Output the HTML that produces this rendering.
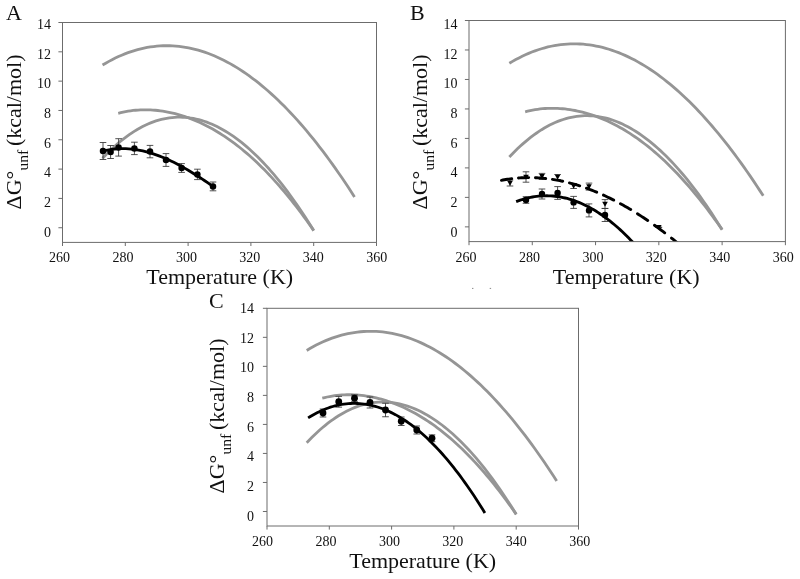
<!DOCTYPE html>
<html><head><meta charset="utf-8"><title>Figure</title>
<style>
html,body{margin:0;padding:0;background:#fff;}
body{width:800px;height:579px;overflow:hidden;font-family:"Liberation Serif", serif;}
svg{display:block;filter:grayscale(1)}
text{font-family:"Liberation Serif", serif;fill:#111;}
.tk{font-size:14px}
.ti{font-size:22px}
.sb{font-size:15.5px}
.lb{font-size:22px}
</style></head><body>
<svg width="800" height="579" viewBox="0 0 800 579">
<rect width="800" height="579" fill="#fff"/>
<g id="pa">
<path d="M102.53 65.07 L105.72 63.18 L108.91 61.38 L112.10 59.68 L115.29 58.09 L118.48 56.59 L121.67 55.19 L124.86 53.89 L128.05 52.68 L131.24 51.57 L134.43 50.56 L137.62 49.65 L140.81 48.83 L144.00 48.11 L147.19 47.48 L150.38 46.95 L153.57 46.52 L156.76 46.18 L159.95 45.93 L163.14 45.77 L166.33 45.71 L169.52 45.75 L172.71 45.87 L175.90 46.09 L179.09 46.40 L182.28 46.80 L185.47 47.29 L188.66 47.88 L191.85 48.56 L195.04 49.32 L198.23 50.18 L201.42 51.12 L204.60 52.16 L207.79 53.29 L210.98 54.50 L214.17 55.80 L217.36 57.19 L220.55 58.67 L223.74 60.24 L226.93 61.90 L230.12 63.64 L233.31 65.47 L236.50 67.39 L239.69 69.39 L242.88 71.48 L246.07 73.65 L249.26 75.91 L252.45 78.26 L255.64 80.69 L258.83 83.21 L262.02 85.81 L265.21 88.49 L268.40 91.26 L271.59 94.12 L274.78 97.05 L277.97 100.07 L281.16 103.17 L284.35 106.36 L287.54 109.63 L290.73 112.98 L293.92 116.41 L297.11 119.92 L300.30 123.52 L303.49 127.20 L306.67 130.96 L309.86 134.79 L313.05 138.71 L316.24 142.71 L319.43 146.79 L322.62 150.95 L325.81 155.19 L329.00 159.51 L332.19 163.91 L335.38 168.38 L338.57 172.94 L341.76 177.57 L344.95 182.28 L348.14 187.07 L351.33 191.94 L354.52 196.89" fill="none" stroke="#959595" stroke-width="2.8"/>
<path d="M118.23 113.29 L120.71 112.66 L123.18 112.10 L125.66 111.60 L128.13 111.17 L130.61 110.80 L133.08 110.48 L135.55 110.23 L138.03 110.04 L140.50 109.90 L142.98 109.82 L145.45 109.80 L147.93 109.83 L150.40 109.92 L152.87 110.06 L155.35 110.26 L157.82 110.50 L160.30 110.80 L162.77 111.16 L165.25 111.56 L167.72 112.01 L170.19 112.52 L172.67 113.08 L175.14 113.69 L177.62 114.34 L180.09 115.05 L182.57 115.81 L185.04 116.62 L187.51 117.48 L189.99 118.39 L192.46 119.35 L194.94 120.36 L197.41 121.42 L199.88 122.53 L202.36 123.69 L204.83 124.90 L207.31 126.16 L209.78 127.47 L212.26 128.84 L214.73 130.25 L217.20 131.72 L219.68 133.24 L222.15 134.81 L224.63 136.43 L227.10 138.10 L229.58 139.83 L232.05 141.61 L234.52 143.44 L237.00 145.33 L239.47 147.26 L241.95 149.26 L244.42 151.30 L246.90 153.40 L249.37 155.55 L251.84 157.76 L254.32 160.02 L256.79 162.34 L259.27 164.71 L261.74 167.13 L264.22 169.61 L266.69 172.14 L269.16 174.73 L271.64 177.37 L274.11 180.07 L276.59 182.82 L279.06 185.63 L281.53 188.49 L284.01 191.40 L286.48 194.36 L288.96 197.38 L291.43 200.46 L293.91 203.58 L296.38 206.76 L298.85 209.99 L301.33 213.27 L303.80 216.60 L306.28 219.98 L308.75 223.41 L311.23 226.89 L313.70 230.42" fill="none" stroke="#959595" stroke-width="2.8"/>
<path d="M102.53 158.28 L105.21 155.48 L107.88 152.77 L110.55 150.16 L113.23 147.65 L115.90 145.23 L118.57 142.91 L121.25 140.69 L123.92 138.57 L126.59 136.55 L129.26 134.63 L131.94 132.81 L134.61 131.09 L137.28 129.47 L139.96 127.95 L142.63 126.53 L145.30 125.21 L147.98 123.99 L150.65 122.87 L153.32 121.86 L155.99 120.94 L158.67 120.12 L161.34 119.41 L164.01 118.79 L166.69 118.27 L169.36 117.85 L172.03 117.53 L174.71 117.31 L177.38 117.19 L180.05 117.16 L182.72 117.24 L185.40 117.41 L188.07 117.67 L190.74 118.03 L193.42 118.49 L196.09 119.04 L198.76 119.69 L201.44 120.43 L204.11 121.26 L206.78 122.19 L209.45 123.21 L212.13 124.32 L214.80 125.53 L217.47 126.82 L220.15 128.20 L222.82 129.68 L225.49 131.24 L228.16 132.89 L230.84 134.64 L233.51 136.46 L236.18 138.38 L238.86 140.38 L241.53 142.47 L244.20 144.65 L246.88 146.91 L249.55 149.26 L252.22 151.69 L254.89 154.21 L257.57 156.81 L260.24 159.49 L262.91 162.26 L265.59 165.11 L268.26 168.05 L270.93 171.07 L273.61 174.17 L276.28 177.35 L278.95 180.62 L281.62 183.97 L284.30 187.40 L286.97 190.92 L289.64 194.52 L292.32 198.20 L294.99 201.97 L297.66 205.82 L300.34 209.76 L303.01 213.78 L305.68 217.88 L308.35 222.07 L311.03 226.35 L313.70 230.71" fill="none" stroke="#959595" stroke-width="2.8"/>
<path d="M103.00 142.50V159.50M99.70 142.50H106.30M99.70 159.50H106.30M110.60 145.50V158.50M107.30 145.50H113.90M107.30 158.50H113.90M118.60 138.70V156.10M115.30 138.70H121.90M115.30 156.10H121.90M134.40 142.20V154.60M131.10 142.20H137.70M131.10 154.60H137.70M150.00 145.40V157.80M146.70 145.40H153.30M146.70 157.80H153.30M166.00 153.60V166.40M162.70 153.60H169.30M162.70 166.40H169.30M181.60 163.60V172.40M178.30 163.60H184.90M178.30 172.40H184.90M197.40 169.20V179.60M194.10 169.20H200.70M194.10 179.60H200.70M213.00 182.00V190.80M209.70 182.00H216.30M209.70 190.80H216.30" fill="none" stroke="#333" stroke-width="0.85"/>
<path d="M103.32 151.05 L106.14 150.38 L108.96 149.83 L111.77 149.38 L114.59 149.03 L117.41 148.79 L120.23 148.65 L123.05 148.61 L125.86 148.66 L128.68 148.82 L131.50 149.06 L134.32 149.39 L137.14 149.81 L139.95 150.32 L142.77 150.91 L145.59 151.59 L148.41 152.34 L151.23 153.17 L154.04 154.08 L156.86 155.06 L159.68 156.11 L162.50 157.22 L165.31 158.41 L168.13 159.66 L170.95 160.97 L173.77 162.34 L176.59 163.77 L179.40 165.26 L182.22 166.79 L185.04 168.38 L187.86 170.02 L190.68 171.71 L193.49 173.44 L196.31 175.21 L199.13 177.03 L201.95 178.88 L204.77 180.77 L207.58 182.69 L210.40 184.65 L213.22 186.63" fill="none" stroke="#000" stroke-width="2.85"/>
<circle cx="103.00" cy="151.00" r="3.25" fill="#000"/>
<circle cx="110.60" cy="152.00" r="3.25" fill="#000"/>
<circle cx="118.60" cy="147.40" r="3.25" fill="#000"/>
<circle cx="134.40" cy="148.40" r="3.25" fill="#000"/>
<circle cx="150.00" cy="151.60" r="3.25" fill="#000"/>
<circle cx="166.00" cy="160.00" r="3.25" fill="#000"/>
<circle cx="181.60" cy="168.00" r="3.25" fill="#000"/>
<circle cx="197.40" cy="174.40" r="3.25" fill="#000"/>
<circle cx="213.00" cy="186.40" r="3.25" fill="#000"/>
<rect x="62.50" y="22.50" width="314.00" height="219.90" fill="none" stroke="#6c6c6c" stroke-width="1"/>
<path d="M58.40 227.74H62.50M58.40 198.42H62.50M58.40 169.10H62.50M58.40 139.78H62.50M58.40 110.46H62.50M58.40 81.14H62.50M58.40 51.82H62.50M58.40 22.50H62.50M62.50 242.40V246.00M125.30 242.40V246.00M188.10 242.40V246.00M250.90 242.40V246.00M313.70 242.40V246.00M376.50 242.40V246.00" stroke="#6c6c6c" stroke-width="1" fill="none"/>
<text x="50.90" y="28.90" text-anchor="end" class="tk">14</text>
<text x="50.90" y="58.56" text-anchor="end" class="tk">12</text>
<text x="50.90" y="88.22" text-anchor="end" class="tk">10</text>
<text x="50.90" y="117.88" text-anchor="end" class="tk">8</text>
<text x="50.90" y="147.54" text-anchor="end" class="tk">6</text>
<text x="50.90" y="177.20" text-anchor="end" class="tk">4</text>
<text x="50.90" y="206.86" text-anchor="end" class="tk">2</text>
<text x="50.90" y="236.52" text-anchor="end" class="tk">0</text>
<text x="59.60" y="262.00" text-anchor="middle" class="tk">260</text>
<text x="123.02" y="262.00" text-anchor="middle" class="tk">280</text>
<text x="186.44" y="262.00" text-anchor="middle" class="tk">300</text>
<text x="249.86" y="262.00" text-anchor="middle" class="tk">320</text>
<text x="313.28" y="262.00" text-anchor="middle" class="tk">340</text>
<text x="376.70" y="262.00" text-anchor="middle" class="tk">360</text>
<text x="219.70" y="283.70" text-anchor="middle" class="ti">Temperature (K)</text>
<text transform="translate(20.60 131.95) rotate(-90)" text-anchor="middle" class="ti">ΔG°<tspan class="sb" dx="0" dy="7.0">unf</tspan><tspan dy="-7.0" dx="-1.7"> (kcal/mol)</tspan></text>
<text x="5.9" y="20.3" class="lb">A</text>
</g>
<g id="pb">
<clipPath id="cb"><rect x="469.0" y="20.5" width="316.4" height="221.6"/></clipPath>
<path d="M509.34 63.31 L512.56 61.40 L515.77 59.59 L518.98 57.89 L522.20 56.28 L525.41 54.77 L528.63 53.37 L531.84 52.06 L535.05 50.85 L538.27 49.73 L541.48 48.72 L544.70 47.80 L547.91 46.98 L551.12 46.25 L554.34 45.62 L557.55 45.09 L560.77 44.65 L563.98 44.30 L567.19 44.06 L570.41 43.90 L573.62 43.84 L576.84 43.87 L580.05 44.00 L583.26 44.22 L586.48 44.53 L589.69 44.93 L592.91 45.43 L596.12 46.02 L599.33 46.70 L602.55 47.47 L605.76 48.33 L608.98 49.28 L612.19 50.32 L615.41 51.45 L618.62 52.67 L621.83 53.98 L625.05 55.38 L628.26 56.87 L631.48 58.45 L634.69 60.11 L637.90 61.86 L641.12 63.70 L644.33 65.63 L647.55 67.65 L650.76 69.75 L653.97 71.93 L657.19 74.21 L660.40 76.56 L663.62 79.01 L666.83 81.54 L670.04 84.15 L673.26 86.85 L676.47 89.64 L679.69 92.51 L682.90 95.46 L686.11 98.49 L689.33 101.61 L692.54 104.82 L695.76 108.10 L698.97 111.47 L702.18 114.92 L705.40 118.46 L708.61 122.07 L711.83 125.77 L715.04 129.55 L718.26 133.41 L721.47 137.35 L724.68 141.37 L727.90 145.47 L731.11 149.65 L734.33 153.92 L737.54 158.26 L740.75 162.68 L743.97 167.18 L747.18 171.76 L750.40 176.42 L753.61 181.16 L756.82 185.97 L760.04 190.87 L763.25 195.84" fill="none" stroke="#959595" stroke-width="2.8"/>
<path d="M525.16 111.78 L527.65 111.15 L530.15 110.59 L532.64 110.09 L535.13 109.65 L537.63 109.28 L540.12 108.96 L542.61 108.71 L545.11 108.52 L547.60 108.38 L550.09 108.30 L552.59 108.28 L555.08 108.31 L557.57 108.40 L560.07 108.54 L562.56 108.73 L565.05 108.98 L567.54 109.29 L570.04 109.64 L572.53 110.04 L575.02 110.50 L577.52 111.01 L580.01 111.57 L582.50 112.18 L585.00 112.84 L587.49 113.56 L589.98 114.32 L592.48 115.13 L594.97 116.00 L597.46 116.91 L599.96 117.88 L602.45 118.89 L604.94 119.96 L607.44 121.07 L609.93 122.24 L612.42 123.46 L614.91 124.73 L617.41 126.05 L619.90 127.42 L622.39 128.84 L624.89 130.32 L627.38 131.84 L629.87 133.42 L632.37 135.05 L634.86 136.73 L637.35 138.47 L639.85 140.26 L642.34 142.10 L644.83 144.00 L647.33 145.95 L649.82 147.95 L652.31 150.00 L654.80 152.11 L657.30 154.28 L659.79 156.50 L662.28 158.77 L664.78 161.10 L667.27 163.48 L669.76 165.92 L672.26 168.41 L674.75 170.96 L677.24 173.56 L679.74 176.22 L682.23 178.93 L684.72 181.70 L687.22 184.52 L689.71 187.39 L692.20 190.32 L694.70 193.30 L697.19 196.34 L699.68 199.43 L702.17 202.57 L704.67 205.76 L707.16 209.01 L709.65 212.31 L712.15 215.66 L714.64 219.06 L717.13 222.51 L719.63 226.00 L722.12 229.55" fill="none" stroke="#959595" stroke-width="2.8"/>
<path d="M509.34 157.02 L512.03 154.20 L514.73 151.48 L517.42 148.86 L520.11 146.33 L522.81 143.90 L525.50 141.57 L528.19 139.34 L530.89 137.21 L533.58 135.17 L536.28 133.24 L538.97 131.41 L541.66 129.68 L544.36 128.05 L547.05 126.52 L549.74 125.10 L552.44 123.77 L555.13 122.55 L557.82 121.42 L560.52 120.40 L563.21 119.48 L565.90 118.66 L568.60 117.93 L571.29 117.31 L573.98 116.79 L576.68 116.37 L579.37 116.05 L582.06 115.83 L584.76 115.71 L587.45 115.68 L590.14 115.75 L592.84 115.92 L595.53 116.19 L598.22 116.55 L600.92 117.01 L603.61 117.57 L606.30 118.22 L609.00 118.96 L611.69 119.80 L614.38 120.73 L617.08 121.76 L619.77 122.88 L622.46 124.09 L625.16 125.39 L627.85 126.78 L630.54 128.26 L633.24 129.84 L635.93 131.50 L638.62 133.25 L641.32 135.09 L644.01 137.01 L646.70 139.03 L649.40 141.13 L652.09 143.32 L654.78 145.59 L657.48 147.95 L660.17 150.39 L662.87 152.93 L665.56 155.54 L668.25 158.24 L670.95 161.02 L673.64 163.89 L676.33 166.84 L679.03 169.88 L681.72 173.00 L684.41 176.20 L687.11 179.48 L689.80 182.85 L692.49 186.30 L695.19 189.84 L697.88 193.46 L700.57 197.16 L703.27 200.95 L705.96 204.82 L708.65 208.78 L711.35 212.82 L714.04 216.95 L716.73 221.16 L719.43 225.46 L722.12 229.85" fill="none" stroke="#959595" stroke-width="2.8"/>
<path d="M510.00 180.00V186.00M506.70 180.00H513.30M506.70 186.00H513.30M526.00 171.80V182.20M522.70 171.80H529.30M522.70 182.20H529.30M542.00 173.40V179.40M538.70 173.40H545.30M538.70 179.40H545.30M557.60 174.50V179.50M554.30 174.50H560.90M554.30 179.50H560.90M573.60 183.50V188.50M570.30 183.50H576.90M570.30 188.50H576.90M589.00 183.10V190.10M585.70 183.10H592.30M585.70 190.10H592.30M605.00 199.60V208.40M601.70 199.60H608.30M601.70 208.40H608.30M658.84 227.30V227.30M655.54 227.30H662.14M655.54 227.30H662.14" fill="none" stroke="#333" stroke-width="0.85"/>
<path d="M526.00 196.70V203.30M522.70 196.70H529.30M522.70 203.30H529.30M542.00 189.00V199.00M538.70 189.00H545.30M538.70 199.00H545.30M557.60 186.60V199.40M554.30 186.60H560.90M554.30 199.40H560.90M573.60 196.40V208.40M570.30 196.40H576.90M570.30 208.40H576.90M589.00 203.90V216.90M585.70 203.90H592.30M585.70 216.90H592.30M605.00 208.50V221.50M601.70 208.50H608.30M601.70 221.50H608.30" fill="none" stroke="#333" stroke-width="0.85"/>
<g clip-path="url(#cb)"><path d="M501.45 180.32 L502.91 180.04 L504.38 179.78 L505.84 179.53 L507.31 179.29 L508.77 179.07 L510.24 178.87 L511.70 178.68M518.45 178.01 L519.91 177.90 L521.38 177.81 L522.84 177.74 L524.31 177.68 L525.77 177.64 L527.24 177.61 L528.70 177.60M535.45 177.72 L536.91 177.79 L538.38 177.87 L539.84 177.96 L541.31 178.07 L542.77 178.20 L544.24 178.34 L545.70 178.49M552.45 179.38 L553.91 179.61 L555.38 179.85 L556.84 180.11 L558.31 180.38 L559.77 180.67 L561.24 180.96 L562.70 181.28M569.45 182.89 L570.91 183.28 L572.38 183.67 L573.84 184.09 L575.31 184.51 L576.77 184.95 L578.24 185.40 L579.70 185.87M586.45 188.17 L587.91 188.71 L589.38 189.25 L590.84 189.81 L592.31 190.38 L593.77 190.97 L595.24 191.56 L596.70 192.17M603.45 195.13 L604.91 195.81 L606.38 196.50 L607.84 197.20 L609.31 197.91 L610.77 198.63 L612.24 199.36 L613.70 200.11M620.45 203.69 L621.91 204.50 L623.38 205.32 L624.84 206.15 L626.31 206.99 L627.77 207.85 L629.24 208.71 L630.70 209.58M637.45 213.75 L638.91 214.69 L640.38 215.63 L641.84 216.59 L643.31 217.56 L644.77 218.53 L646.24 219.52 L647.70 220.51M654.45 225.24 L655.91 226.29 L657.38 227.35 L658.84 228.43 L660.31 229.51 L661.77 230.60 L663.24 231.70 L664.70 232.81M671.45 238.05 L672.91 239.22 L674.38 240.39 L675.84 241.57 L677.31 242.76 L678.77 243.96 L680.24 245.17 L681.70 246.39M688.45 252.11 L688.67 252.30 L688.89 252.49 L689.11 252.68 L689.34 252.88 L689.56 253.07 L689.78 253.26 L690.00 253.45" fill="none" stroke="#000" stroke-width="2.9" stroke-linecap="round"/>
<path d="M516.14 201.65 L518.19 200.88 L520.23 200.17 L522.27 199.51 L524.32 198.91 L526.36 198.36 L528.40 197.86 L530.45 197.41 L532.49 197.02 L534.53 196.69 L536.58 196.40 L538.62 196.17 L540.66 195.99 L542.71 195.87 L544.75 195.80 L546.79 195.78 L548.83 195.81 L550.88 195.90 L552.92 196.04 L554.96 196.23 L557.01 196.48 L559.05 196.78 L561.09 197.13 L563.14 197.53 L565.18 197.99 L567.22 198.49 L569.27 199.05 L571.31 199.67 L573.35 200.33 L575.40 201.05 L577.44 201.82 L579.48 202.64 L581.53 203.51 L583.57 204.43 L585.61 205.41 L587.66 206.44 L589.70 207.52 L591.74 208.65 L593.78 209.83 L595.83 211.07 L597.87 212.35 L599.91 213.69 L601.96 215.08 L604.00 216.52 L606.04 218.01 L608.09 219.55 L610.13 221.15 L612.17 222.79 L614.22 224.49 L616.26 226.24 L618.30 228.03 L620.35 229.88 L622.39 231.78 L624.43 233.73 L626.48 235.73 L628.52 237.79 L630.56 239.89 L632.61 242.04 L634.65 244.24 L636.69 246.50" fill="none" stroke="#000" stroke-width="2.85"/></g>
<path d="M507.20 180.71H512.80L510.00 185.81Z" fill="#000"/>
<path d="M523.20 174.71H528.80L526.00 179.81Z" fill="#000"/>
<path d="M539.20 174.11H544.80L542.00 179.21Z" fill="#000"/>
<path d="M554.80 174.71H560.40L557.60 179.81Z" fill="#000"/>
<path d="M570.80 183.71H576.40L573.60 188.81Z" fill="#000"/>
<path d="M586.20 184.31H591.80L589.00 189.41Z" fill="#000"/>
<path d="M602.20 201.71H607.80L605.00 206.81Z" fill="#000"/>
<path d="M656.04 225.01H661.64L658.84 230.11Z" fill="#000"/>
<circle cx="526.00" cy="200.00" r="3.2" fill="#000"/>
<circle cx="542.00" cy="194.00" r="3.2" fill="#000"/>
<circle cx="557.60" cy="193.00" r="3.2" fill="#000"/>
<circle cx="573.60" cy="202.40" r="3.2" fill="#000"/>
<circle cx="589.00" cy="210.40" r="3.2" fill="#000"/>
<circle cx="605.00" cy="215.00" r="3.2" fill="#000"/>
<rect x="469.00" y="20.50" width="316.40" height="221.10" fill="none" stroke="#6c6c6c" stroke-width="1"/>
<path d="M464.90 226.86H469.00M464.90 197.38H469.00M464.90 167.90H469.00M464.90 138.42H469.00M464.90 108.94H469.00M464.90 79.46H469.00M464.90 49.98H469.00M464.90 20.50H469.00M469.00 241.60V245.20M532.28 241.60V245.20M595.56 241.60V245.20M658.84 241.60V245.20M722.12 241.60V245.20M785.40 241.60V245.20" stroke="#6c6c6c" stroke-width="1" fill="none"/>
<text x="457.40" y="28.90" text-anchor="end" class="tk">14</text>
<text x="457.40" y="58.56" text-anchor="end" class="tk">12</text>
<text x="457.40" y="88.22" text-anchor="end" class="tk">10</text>
<text x="457.40" y="117.88" text-anchor="end" class="tk">8</text>
<text x="457.40" y="147.54" text-anchor="end" class="tk">6</text>
<text x="457.40" y="177.20" text-anchor="end" class="tk">4</text>
<text x="457.40" y="206.86" text-anchor="end" class="tk">2</text>
<text x="457.40" y="236.52" text-anchor="end" class="tk">0</text>
<text x="466.10" y="262.00" text-anchor="middle" class="tk">260</text>
<text x="529.52" y="262.00" text-anchor="middle" class="tk">280</text>
<text x="592.94" y="262.00" text-anchor="middle" class="tk">300</text>
<text x="656.36" y="262.00" text-anchor="middle" class="tk">320</text>
<text x="719.78" y="262.00" text-anchor="middle" class="tk">340</text>
<text x="783.20" y="262.00" text-anchor="middle" class="tk">360</text>
<text x="626.20" y="283.70" text-anchor="middle" class="ti">Temperature (K)</text>
<text transform="translate(427.10 131.95) rotate(-90)" text-anchor="middle" class="ti">ΔG°<tspan class="sb" dx="0" dy="7.0">unf</tspan><tspan dy="-7.0" dx="-1.7"> (kcal/mol)</tspan></text>
<text x="409.9" y="20.3" class="lb">B</text>
<rect x="472" y="287.9" width="1.4" height="1" fill="#8a8a8a"/><rect x="489.7" y="287.9" width="1.4" height="1" fill="#8a8a8a"/>
</g>
<g id="pc">
<path d="M306.72 350.45 L309.88 348.57 L313.04 346.79 L316.21 345.11 L319.37 343.53 L322.54 342.05 L325.70 340.66 L328.87 339.37 L332.03 338.18 L335.19 337.08 L338.36 336.08 L341.52 335.18 L344.69 334.37 L347.85 333.65 L351.02 333.03 L354.18 332.51 L357.34 332.08 L360.51 331.74 L363.67 331.49 L366.84 331.34 L370.00 331.28 L373.17 331.31 L376.33 331.44 L379.49 331.65 L382.66 331.96 L385.82 332.36 L388.99 332.85 L392.15 333.43 L395.32 334.09 L398.48 334.85 L401.64 335.70 L404.81 336.64 L407.97 337.66 L411.14 338.78 L414.30 339.98 L417.47 341.27 L420.63 342.65 L423.79 344.11 L426.96 345.66 L430.12 347.30 L433.29 349.03 L436.45 350.84 L439.62 352.74 L442.78 354.72 L445.94 356.79 L449.11 358.94 L452.27 361.18 L455.44 363.50 L458.60 365.91 L461.77 368.40 L464.93 370.98 L468.09 373.63 L471.26 376.37 L474.42 379.20 L477.59 382.11 L480.75 385.10 L483.92 388.17 L487.08 391.32 L490.24 394.56 L493.41 397.87 L496.57 401.27 L499.74 404.75 L502.90 408.31 L506.07 411.95 L509.23 415.67 L512.39 419.47 L515.56 423.35 L518.72 427.31 L521.89 431.35 L525.05 435.47 L528.22 439.66 L531.38 443.94 L534.54 448.29 L537.71 452.72 L540.87 457.23 L544.04 461.82 L547.20 466.49 L550.37 471.23 L553.53 476.05 L556.69 480.94" fill="none" stroke="#959595" stroke-width="2.8"/>
<path d="M322.29 398.18 L324.75 397.56 L327.20 397.00 L329.65 396.51 L332.11 396.08 L334.56 395.71 L337.02 395.40 L339.47 395.15 L341.93 394.96 L344.38 394.83 L346.84 394.75 L349.29 394.73 L351.75 394.76 L354.20 394.85 L356.65 394.99 L359.11 395.18 L361.56 395.42 L364.02 395.72 L366.47 396.07 L368.93 396.47 L371.38 396.92 L373.84 397.42 L376.29 397.97 L378.75 398.57 L381.20 399.22 L383.65 399.93 L386.11 400.68 L388.56 401.48 L391.02 402.33 L393.47 403.23 L395.93 404.18 L398.38 405.18 L400.84 406.23 L403.29 407.33 L405.75 408.48 L408.20 409.67 L410.65 410.92 L413.11 412.22 L415.56 413.57 L418.02 414.98 L420.47 416.43 L422.93 417.93 L425.38 419.48 L427.84 421.09 L430.29 422.75 L432.75 424.46 L435.20 426.22 L437.65 428.03 L440.11 429.90 L442.56 431.82 L445.02 433.79 L447.47 435.81 L449.93 437.89 L452.38 440.02 L454.84 442.21 L457.29 444.45 L459.75 446.74 L462.20 449.08 L464.65 451.48 L467.11 453.94 L469.56 456.45 L472.02 459.01 L474.47 461.62 L476.93 464.29 L479.38 467.02 L481.84 469.79 L484.29 472.62 L486.75 475.51 L489.20 478.44 L491.65 481.43 L494.11 484.48 L496.56 487.57 L499.02 490.72 L501.47 493.91 L503.93 497.16 L506.38 500.46 L508.84 503.80 L511.29 507.20 L513.75 510.64 L516.20 514.14" fill="none" stroke="#959595" stroke-width="2.8"/>
<path d="M306.72 442.72 L309.37 439.95 L312.02 437.27 L314.67 434.68 L317.32 432.19 L319.97 429.80 L322.63 427.51 L325.28 425.31 L327.93 423.21 L330.58 421.21 L333.23 419.31 L335.88 417.51 L338.54 415.80 L341.19 414.20 L343.84 412.69 L346.49 411.29 L349.14 409.98 L351.80 408.78 L354.45 407.67 L357.10 406.66 L359.75 405.75 L362.40 404.95 L365.05 404.24 L367.71 403.63 L370.36 403.11 L373.01 402.70 L375.66 402.38 L378.31 402.16 L380.96 402.04 L383.62 402.02 L386.27 402.09 L388.92 402.26 L391.57 402.52 L394.22 402.88 L396.87 403.33 L399.53 403.88 L402.18 404.52 L404.83 405.25 L407.48 406.08 L410.13 406.99 L412.78 408.00 L415.44 409.10 L418.09 410.29 L420.74 411.58 L423.39 412.95 L426.04 414.41 L428.69 415.95 L431.35 417.59 L434.00 419.31 L436.65 421.12 L439.30 423.02 L441.95 425.00 L444.60 427.07 L447.26 429.23 L449.91 431.47 L452.56 433.79 L455.21 436.20 L457.86 438.69 L460.51 441.26 L463.17 443.92 L465.82 446.66 L468.47 449.49 L471.12 452.39 L473.77 455.38 L476.42 458.45 L479.08 461.60 L481.73 464.84 L484.38 468.16 L487.03 471.55 L489.68 475.04 L492.33 478.60 L494.99 482.25 L497.64 485.98 L500.29 489.79 L502.94 493.68 L505.59 497.66 L508.24 501.73 L510.90 505.88 L513.55 510.11 L516.20 514.43" fill="none" stroke="#959595" stroke-width="2.8"/>
<path d="M323.00 409.00V417.00M319.70 409.00H326.30M319.70 417.00H326.30M338.75 396.35V407.15M335.45 396.35H342.05M335.45 407.15H342.05M354.50 394.85V401.65M351.20 394.85H357.80M351.20 401.65H357.80M370.00 397.00V408.00M366.70 397.00H373.30M366.70 408.00H373.30M385.50 403.25V416.75M382.20 403.25H388.80M382.20 416.75H388.80M401.25 417.00V425.50M397.95 417.00H404.55M397.95 425.50H404.55M416.75 426.00V434.00M413.45 426.00H420.05M413.45 434.00H420.05M432.00 434.85V441.65M428.70 434.85H435.30M428.70 441.65H435.30" fill="none" stroke="#333" stroke-width="0.85"/>
<path d="M308.12 417.88 L310.36 416.50 L312.59 415.18 L314.83 413.94 L317.07 412.77 L319.31 411.67 L321.54 410.63 L323.78 409.67 L326.02 408.78 L328.26 407.95 L330.49 407.20 L332.73 406.51 L334.97 405.90 L337.21 405.35 L339.45 404.87 L341.68 404.46 L343.92 404.11 L346.16 403.84 L348.40 403.63 L350.63 403.49 L352.87 403.42 L355.11 403.41 L357.35 403.48 L359.58 403.61 L361.82 403.80 L364.06 404.06 L366.30 404.39 L368.54 404.79 L370.77 405.25 L373.01 405.78 L375.25 406.37 L377.49 407.03 L379.72 407.76 L381.96 408.55 L384.20 409.40 L386.44 410.32 L388.67 411.31 L390.91 412.36 L393.15 413.47 L395.39 414.65 L397.62 415.89 L399.86 417.20 L402.10 418.57 L404.34 420.01 L406.58 421.51 L408.81 423.07 L411.05 424.69 L413.29 426.38 L415.53 428.13 L417.76 429.95 L420.00 431.83 L422.24 433.77 L424.48 435.77 L426.71 437.83 L428.95 439.96 L431.19 442.15 L433.43 444.40 L435.67 446.71 L437.90 449.09 L440.14 451.52 L442.38 454.02 L444.62 456.58 L446.85 459.20 L449.09 461.88 L451.33 464.62 L453.57 467.42 L455.80 470.28 L458.04 473.21 L460.28 476.19 L462.52 479.23 L464.76 482.34 L466.99 485.50 L469.23 488.72 L471.47 492.00 L473.71 495.34 L475.94 498.74 L478.18 502.20 L480.42 505.72 L482.66 509.30 L484.89 512.94" fill="none" stroke="#000" stroke-width="2.8"/>
<circle cx="323.00" cy="413.00" r="3.4" fill="#000"/>
<circle cx="338.75" cy="401.75" r="3.4" fill="#000"/>
<circle cx="354.50" cy="398.25" r="3.4" fill="#000"/>
<circle cx="370.00" cy="402.50" r="3.4" fill="#000"/>
<circle cx="385.50" cy="410.00" r="3.4" fill="#000"/>
<circle cx="401.25" cy="421.25" r="3.4" fill="#000"/>
<circle cx="416.75" cy="430.00" r="3.4" fill="#000"/>
<circle cx="432.00" cy="438.25" r="3.4" fill="#000"/>
<rect x="267.00" y="308.30" width="311.50" height="217.70" fill="none" stroke="#6c6c6c" stroke-width="1"/>
<path d="M262.90 511.49H267.00M262.90 482.46H267.00M262.90 453.43H267.00M262.90 424.41H267.00M262.90 395.38H267.00M262.90 366.35H267.00M262.90 337.33H267.00M262.90 308.30H267.00M267.00 526.00V529.60M329.30 526.00V529.60M391.60 526.00V529.60M453.90 526.00V529.60M516.20 526.00V529.60M578.50 526.00V529.60" stroke="#6c6c6c" stroke-width="1" fill="none"/>
<text x="253.90" y="312.90" text-anchor="end" class="tk">14</text>
<text x="253.90" y="342.56" text-anchor="end" class="tk">12</text>
<text x="253.90" y="372.22" text-anchor="end" class="tk">10</text>
<text x="253.90" y="401.88" text-anchor="end" class="tk">8</text>
<text x="253.90" y="431.54" text-anchor="end" class="tk">6</text>
<text x="253.90" y="461.20" text-anchor="end" class="tk">4</text>
<text x="253.90" y="490.86" text-anchor="end" class="tk">2</text>
<text x="253.90" y="520.52" text-anchor="end" class="tk">0</text>
<text x="262.60" y="546.00" text-anchor="middle" class="tk">260</text>
<text x="326.02" y="546.00" text-anchor="middle" class="tk">280</text>
<text x="389.44" y="546.00" text-anchor="middle" class="tk">300</text>
<text x="452.86" y="546.00" text-anchor="middle" class="tk">320</text>
<text x="516.28" y="546.00" text-anchor="middle" class="tk">340</text>
<text x="579.70" y="546.00" text-anchor="middle" class="tk">360</text>
<text x="422.70" y="567.70" text-anchor="middle" class="ti">Temperature (K)</text>
<text transform="translate(223.60 415.95) rotate(-90)" text-anchor="middle" class="ti">ΔG°<tspan class="sb" dx="0" dy="7.0">unf</tspan><tspan dy="-7.0" dx="-1.7"> (kcal/mol)</tspan></text>
<text x="209.1" y="307.95" class="lb">C</text>
</g>
</svg>
</body></html>
